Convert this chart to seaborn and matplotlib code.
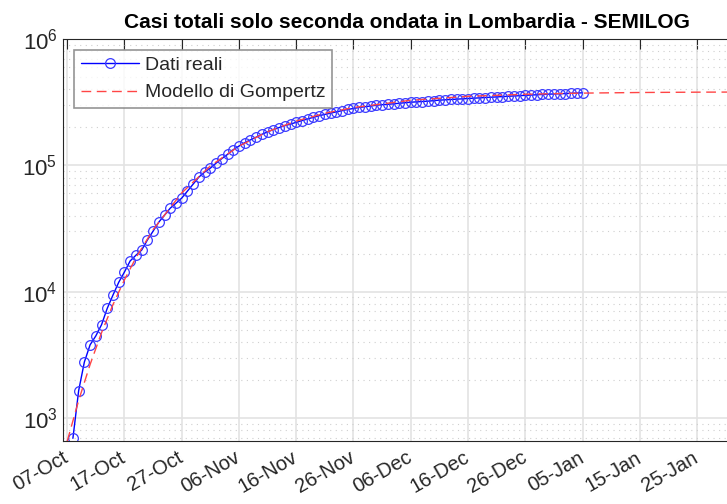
import matplotlib
matplotlib.use('Agg')
import matplotlib.pyplot as plt
import matplotlib.dates as mdates
import matplotlib.transforms as mtransforms
from matplotlib.ticker import LogLocator, NullFormatter
import pandas as pd
import seaborn as sns

# Casi totali (solo seconda ondata), dal 08-Oct al 05-Jan
cases = [690, 1640, 2770, 3790, 4460, 5470, 7380, 9400, 11850, 14300,
         17500, 19400, 21300, 25600, 30100, 35500, 40300, 45800, 50100, 55000,
         62500, 71000, 80700, 88400, 95000, 104000, 113000, 122000, 133000, 142000,
         151000, 159000, 167000, 176000, 184000, 192000, 199000, 206000, 212000, 219000,
         226000, 233000, 240000, 247000, 253000, 259000, 265000, 271000, 277000, 282000,
         287000, 291000, 295000, 299000, 302000, 304000, 307000, 310000, 313000, 316000,
         318000, 320000, 322000, 325000, 328000, 330000, 332000, 334000, 336000, 338000,
         340000, 342000, 344000, 346000, 348000, 350000, 352000, 354000, 356000, 358000,
         360000, 362000, 364000, 366000, 367000, 368500, 370000, 372000, 373500, 375000]
dates = pd.date_range('2020-10-08', periods=len(cases), freq='D')

# Modello di Gompertz
model_dates = ['2020-10-07', '2020-10-09', '2020-10-11', '2020-10-13', '2020-10-15',
               '2020-10-17', '2020-10-19', '2020-10-22', '2020-10-27', '2020-11-01',
               '2020-11-06', '2020-11-11', '2020-11-16', '2020-11-21', '2020-11-26',
               '2020-12-06', '2020-12-16', '2020-12-26', '2021-01-05', '2021-01-15',
               '2021-01-25', '2021-02-04']
model_vals = [653, 1374, 2648, 4729, 7897, 12410, 18510, 30920, 60430, 98860,
              141700, 184600, 224100, 258300, 286700, 327400, 351600, 365300, 372900, 377100,
              379400, 380600]

tick_dates = ['2020-10-07', '2020-10-17', '2020-10-27', '2020-11-06', '2020-11-16', '2020-11-26',
              '2020-12-06', '2020-12-16', '2020-12-26', '2021-01-05', '2021-01-15', '2021-01-25']

sns.set_style('white')
plt.rcParams['font.family'] = ['Liberation Sans', 'DejaVu Sans']

fig = plt.figure(figsize=(7.27, 5.04), dpi=100)
ax = fig.add_axes([63 / 727, 63 / 504, 688 / 727, 402 / 504])

sns.lineplot(x=dates, y=cases, ax=ax, color='blue', lw=1, marker='o', markersize=7,
             markerfacecolor='none', markeredgecolor='#3a3aff', markeredgewidth=0.9,
             label='Dati reali')
sns.lineplot(x=pd.to_datetime(model_dates), y=model_vals, ax=ax, color='#ff4545', lw=1,
             label='Modello di Gompertz')
ax.lines[1].set_linestyle((0, (7, 4)))

ax.set_yscale('log')
ax.set_ylim(657, 1e6)
ax.set_xlim(pd.Timestamp('2020-10-06 06:30'), pd.Timestamp('2021-02-03 10:00'))

ax.yaxis.set_major_locator(LogLocator(base=10, numticks=10))
ax.yaxis.set_minor_locator(LogLocator(base=10, subs=range(2, 10), numticks=10))
ax.yaxis.set_minor_formatter(NullFormatter())
ax.set_xticks(pd.to_datetime(tick_dates))
ax.xaxis.set_major_formatter(mdates.DateFormatter('%d-%b'))

ax.grid(which='major', axis='both', color='#e3e3e3', lw=1.2, ls='-')
ax.grid(which='minor', axis='y', color='#cfcfcf', lw=0.8, ls=(0, (1, 4)))
ax.set_axisbelow(True)

ax.spines['right'].set_visible(False)
for side in ['left', 'bottom', 'top']:
    ax.spines[side].set_color('#262626')
    ax.spines[side].set_linewidth(0.8)

ax.tick_params(axis='both', which='major', direction='in', length=7, width=0.8,
               colors='#262626', top=True, labelsize=14.5)
ax.tick_params(axis='y', which='minor', direction='in', length=4, width=0.8, colors='#262626')
ax.tick_params(axis='y', labelsize=16, pad=4)
shift = mtransforms.ScaledTranslation(-5 / 100, -2 / 100, fig.dpi_scale_trans)
for lbl in ax.get_xticklabels():
    lbl.set_rotation(30)
    lbl.set_ha('right')
    lbl.set_rotation_mode('anchor')
    lbl.set_transform(lbl.get_transform() + shift)
ax.set_xlabel('')
ax.set_ylabel('')

ax.set_title('Casi totali solo seconda ondata in Lombardia - SEMILOG',
             fontsize=15, fontweight='bold', color='black', pad=8)

leg = ax.legend(loc='upper left', fontsize=14, frameon=True, fancybox=False,
                edgecolor='#7a7a7a', borderaxespad=0.55, handlelength=3.0,
                handletextpad=0.3, borderpad=0.35, labelspacing=0.5)
leg.get_frame().set_linewidth(1.2)

fig.savefig('out.png', dpi=100)
